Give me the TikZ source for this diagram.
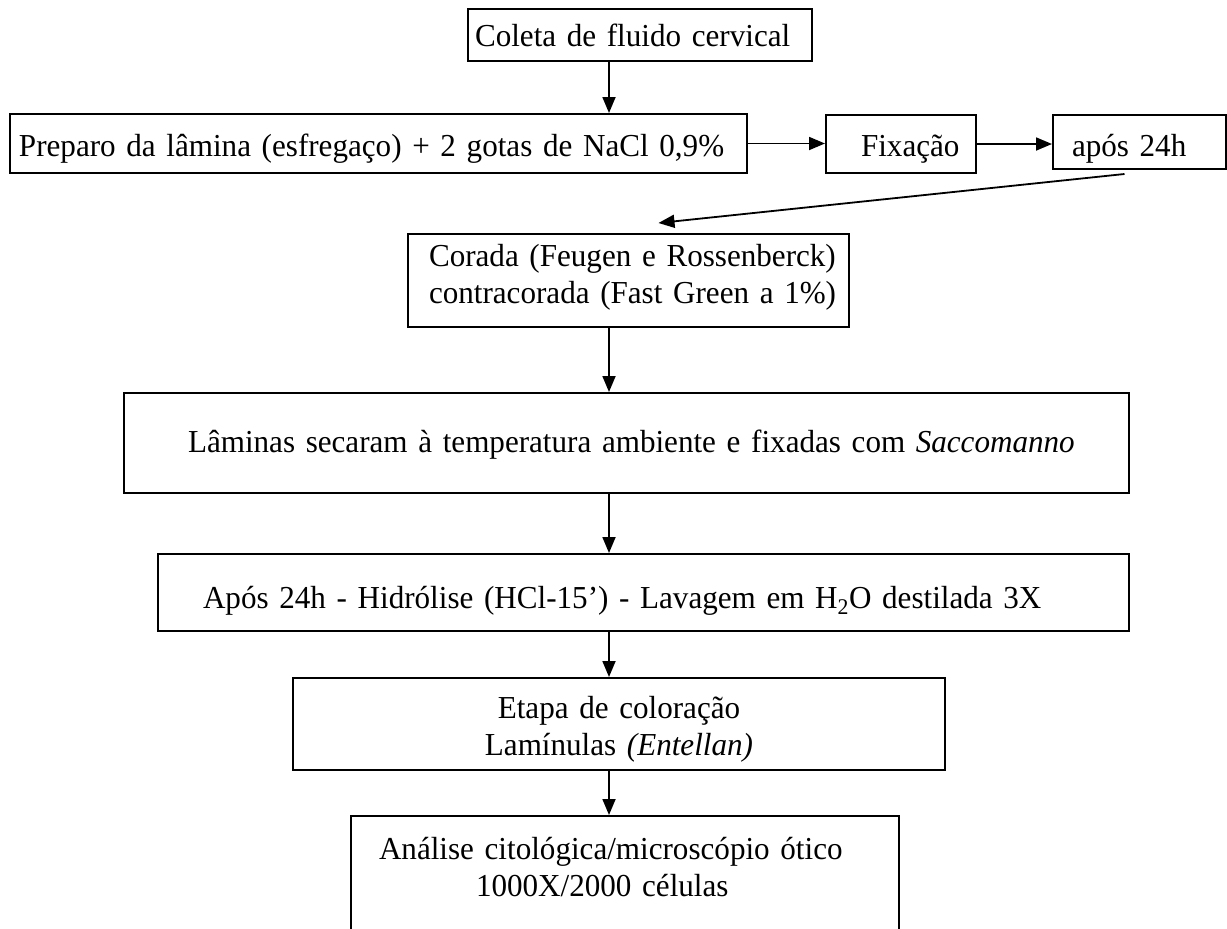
\documentclass[tikz,border=0pt]{standalone}
\usepackage{fontspec}
\setmainfont[FakeStretch=0.972]{Liberation Serif}
\usetikzlibrary{arrows.meta,calc}
\begin{document}
\begin{tikzpicture}[x=1pt,y=-1pt,
  box/.style={draw, line width=2pt, anchor=north west, inner ysep=0pt,
    font=\fontsize{32}{37}\selectfont},
  arr/.style={line width=1.8pt, -{Triangle[length=16pt,width=13pt]}}]
\useasboundingbox (0,0) rectangle (1227,929);
\clip (0,0) rectangle (1227,929);

\node[box, minimum width=344pt, minimum height=52.5pt, inner xsep=7pt, text width=330pt,
  align=left, text height=26pt, text depth=3.5pt] (coleta) at (467,7.5)
  {\mbox{Coleta de fluido cervical}};

\node[box, minimum width=737pt, minimum height=59pt, inner xsep=9pt, text width=719pt,
  align=left, text height=28pt, text depth=3pt] (preparo) at (9,113)
  {\mbox{Preparo da lâmina (esfregaço) + 2 gotas de NaCl 0,9\%}};

\node[box, minimum width=150pt, minimum height=58pt, inner xsep=35pt, text width=80pt,
  align=left, text height=27pt, text depth=3pt] (fix) at (825,114)
  {\mbox{Fixação}};

\node[box, minimum width=173pt, minimum height=54pt, inner xsep=19pt, text width=135pt,
  align=left, text height=30pt, text depth=2pt] (apos) at (1052,114)
  {\mbox{após 24h}};

\node[box, minimum width=441pt, minimum height=93pt, inner xsep=21pt, text width=399pt,
  align=left, text height=25pt, text depth=54pt] (corada) at (407,233)
  {\mbox{Corada (Feugen e Rossenberck)}\\\mbox{contracorada (Fast Green a 1\%)}};

\node[box, minimum width=1005pt, minimum height=100pt, inner xsep=64pt, text width=877pt,
  align=left, text height=24pt, text depth=6pt] (laminas) at (123,392)
  {\mbox{Lâminas secaram à temperatura ambiente e fixadas com \textit{Saccomanno}}};

\node[box, minimum width=971pt, minimum height=77pt, inner xsep=45pt, text width=881pt,
  align=left, text height=34pt, text depth=3pt] (hidrolise) at (157,553)
  {\mbox{Após 24h - Hidrólise (HCl-15’) - Lavagem em H\textsubscript{2}O destilada 3X}};

\node[box, minimum width=652pt, minimum height=92pt, inner xsep=10pt, text width=632pt,
  align=center, text height=25pt, text depth=37pt] (etapa) at (292,677)
  {Etapa de coloração\\Lamínulas \textit{(Entellan)}};

\node[box, minimum width=548pt, minimum height=145pt, inner xsep=28pt, text width=492pt,
  align=left, text height=25pt, text depth=84pt] (analise) at (350,815)
  {\mbox{Análise citológica/microscópio ótico}\\\mbox{\hspace*{97pt}1000X/2000 células}};

\coordinate (sp) at (609,0);
\draw[arr] (coleta.south -| sp) -- (preparo.north -| sp);
\draw[arr] (preparo.east) -- (preparo.east -| fix.west);
\draw[arr] (fix.east) -- (fix.east -| apos.west);
\draw[arr] ($(apos.south)+(-15,4)$) -- ($(corada.north)+(30,-10)$);
\draw[arr] (corada.south -| sp) -- (laminas.north -| sp);
\draw[arr] (laminas.south -| sp) -- (hidrolise.north -| sp);
\draw[arr] (hidrolise.south -| sp) -- (etapa.north -| sp);
\draw[arr] (etapa.south -| sp) -- (analise.north -| sp);
\end{tikzpicture}
\end{document}
